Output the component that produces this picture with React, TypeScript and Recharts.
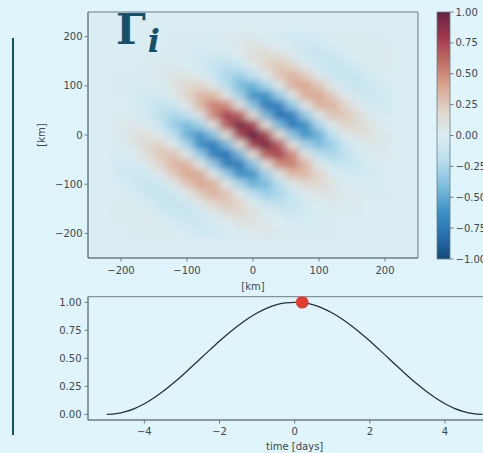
import React from "react";
import {
  Bar,
  BarChart,
  CartesianGrid,
  ComposedChart,
  Line,
  ReferenceArea,
  Scatter,
  ScatterChart,
  XAxis,
  YAxis,
} from "recharts";

// grid of the field, 20 km spacing
const FIELD_X = [-200, -180, -160, -140, -120, -100, -80, -60, -40, -20, 0, 20, 40, 60, 80, 100, 120, 140, 160, 180, 200];
const FIELD_Y = [200, 180, 160, 140, 120, 100, 80, 60, 40, 20, 0, -20, -40, -60, -80, -100, -120, -140, -160, -180, -200];

// values, one row per FIELD_Y entry (top to bottom)
const FIELD = [
  [0, 0, 0, 0, -0.01, -0.01, -0.01, 0, 0.03, 0.05, 0.04, 0.01, -0.03, -0.06, -0.05, -0.03, 0, 0.02, 0.02, 0.01, 0],
  [0, 0, 0, 0, -0.01, -0.02, -0.04, -0.03, 0.01, 0.06, 0.09, 0.08, 0.02, -0.05, -0.09, -0.08, -0.04, 0.01, 0.03, 0.03, 0.01],
  [0, 0, 0.01, 0.01, 0.01, -0.02, -0.06, -0.08, -0.06, 0.02, 0.12, 0.17, 0.13, 0.04, -0.07, -0.12, -0.1, -0.04, 0.01, 0.03, 0.02],
  [0, 0, 0.01, 0.03, 0.04, 0.01, -0.05, -0.13, -0.17, -0.11, 0.04, 0.19, 0.26, 0.19, 0.05, -0.08, -0.13, -0.1, -0.04, 0.01, 0.02],
  [-0.01, -0.01, 0.01, 0.04, 0.08, 0.09, 0.03, -0.1, -0.25, -0.3, -0.18, 0.05, 0.27, 0.34, 0.24, 0.05, -0.09, -0.13, -0.1, -0.04, 0],
  [-0.01, -0.02, -0.02, 0.01, 0.09, 0.17, 0.18, 0.06, -0.19, -0.41, -0.46, -0.26, 0.07, 0.34, 0.39, 0.26, 0.05, -0.08, -0.12, -0.08, -0.03],
  [-0.01, -0.04, -0.06, -0.05, 0.03, 0.18, 0.32, 0.32, 0.09, -0.28, -0.59, -0.61, -0.32, 0.08, 0.36, 0.39, 0.24, 0.05, -0.07, -0.09, -0.05],
  [0, -0.03, -0.08, -0.13, -0.1, 0.06, 0.32, 0.53, 0.49, 0.13, -0.38, -0.73, -0.7, -0.34, 0.08, 0.34, 0.34, 0.19, 0.04, -0.05, -0.06],
  [0.03, 0.01, -0.06, -0.17, -0.25, -0.19, 0.09, 0.49, 0.75, 0.65, 0.16, -0.44, -0.78, -0.7, -0.32, 0.07, 0.27, 0.26, 0.13, 0.02, -0.03],
  [0.05, 0.06, 0.02, -0.11, -0.3, -0.41, -0.28, 0.13, 0.65, 0.93, 0.75, 0.17, -0.44, -0.73, -0.61, -0.26, 0.05, 0.19, 0.17, 0.08, 0.01],
  [0.04, 0.09, 0.12, 0.04, -0.18, -0.46, -0.59, -0.38, 0.16, 0.75, 1.0, 0.75, 0.16, -0.38, -0.59, -0.46, -0.18, 0.04, 0.12, 0.09, 0.04],
  [0.01, 0.08, 0.17, 0.19, 0.05, -0.26, -0.61, -0.73, -0.44, 0.17, 0.75, 0.93, 0.65, 0.13, -0.28, -0.41, -0.3, -0.11, 0.02, 0.06, 0.05],
  [-0.03, 0.02, 0.13, 0.26, 0.27, 0.07, -0.32, -0.7, -0.78, -0.44, 0.16, 0.65, 0.75, 0.49, 0.09, -0.19, -0.25, -0.17, -0.06, 0.01, 0.03],
  [-0.06, -0.05, 0.04, 0.19, 0.34, 0.34, 0.08, -0.34, -0.7, -0.73, -0.38, 0.13, 0.49, 0.53, 0.32, 0.06, -0.1, -0.13, -0.08, -0.03, 0],
  [-0.05, -0.09, -0.07, 0.05, 0.24, 0.39, 0.36, 0.08, -0.32, -0.61, -0.59, -0.28, 0.09, 0.32, 0.32, 0.18, 0.03, -0.05, -0.06, -0.04, -0.01],
  [-0.03, -0.08, -0.12, -0.08, 0.05, 0.26, 0.39, 0.34, 0.07, -0.26, -0.46, -0.41, -0.19, 0.06, 0.18, 0.17, 0.09, 0.01, -0.02, -0.02, -0.01],
  [0, -0.04, -0.1, -0.13, -0.09, 0.05, 0.24, 0.34, 0.27, 0.05, -0.18, -0.3, -0.25, -0.1, 0.03, 0.09, 0.08, 0.04, 0.01, -0.01, -0.01],
  [0.02, 0.01, -0.04, -0.1, -0.13, -0.08, 0.05, 0.19, 0.26, 0.19, 0.04, -0.11, -0.17, -0.13, -0.05, 0.01, 0.04, 0.03, 0.01, 0, 0],
  [0.02, 0.03, 0.01, -0.04, -0.1, -0.12, -0.07, 0.04, 0.13, 0.17, 0.12, 0.02, -0.06, -0.08, -0.06, -0.02, 0.01, 0.01, 0.01, 0, 0],
  [0.01, 0.03, 0.03, 0.01, -0.04, -0.08, -0.09, -0.05, 0.02, 0.08, 0.09, 0.06, 0.01, -0.03, -0.04, -0.02, -0.01, 0, 0, 0, 0],
  [0, 0.01, 0.02, 0.02, 0, -0.03, -0.05, -0.06, -0.03, 0.01, 0.04, 0.05, 0.03, 0, -0.01, -0.01, -0.01, 0, 0, 0, 0],
];

const KM_TICKS = [-200, -100, 0, 100, 200];
const CB_TICKS = [1, 0.75, 0.5, 0.25, 0, -0.25, -0.5, -0.75, -1];

// time series
const TIME = [
  -5, -4.75, -4.5, -4.25, -4, -3.75, -3.5, -3.25, -3, -2.75, -2.5, -2.25, -2, -1.75, -1.5, -1.25, -1, -0.75, -0.5, -0.25, 0,
  0.25, 0.5, 0.75, 1, 1.25, 1.5, 1.75, 2, 2.25, 2.5, 2.75, 3, 3.25, 3.5, 3.75, 4, 4.25, 4.5, 4.75, 5,
];
const AMPLITUDE = [
  0, 0.006, 0.024, 0.054, 0.095, 0.146, 0.206, 0.273, 0.345, 0.422, 0.5, 0.578, 0.655, 0.727, 0.794, 0.854, 0.905, 0.946, 0.976, 0.994, 1,
  0.994, 0.976, 0.946, 0.905, 0.854, 0.794, 0.727, 0.655, 0.578, 0.5, 0.422, 0.345, 0.273, 0.206, 0.146, 0.095, 0.054, 0.024, 0.006, 0,
];
const NOW_TIME = [0.2];
const NOW_AMPLITUDE = [1];
const TIME_TICKS = [-4, -2, 0, 2, 4];
const AMP_TICKS = [0, 0.25, 0.5, 0.75, 1];

// RdBu_r as it shows through the slide's tint
const CMAP: [number, number[]][] = [
  [-1.0, [24, 74, 120]],
  [-0.8, [40, 112, 178]],
  [-0.6, [66, 148, 198]],
  [-0.4, [130, 192, 222]],
  [-0.2, [186, 222, 237]],
  [0.0, [218, 237, 243]],
  [0.2, [224, 213, 202]],
  [0.4, [217, 166, 143]],
  [0.6, [192, 110, 101]],
  [0.8, [160, 55, 76]],
  [1.0, [100, 35, 66]],
];

const colorOf = (v: number) => {
  const t = Math.max(-1, Math.min(1, v));
  for (let i = 1; i < CMAP.length; i++) {
    const [v1, c1] = CMAP[i];
    if (t <= v1) {
      const [v0, c0] = CMAP[i - 1];
      const f = (t - v0) / (v1 - v0);
      const c = c0.map((a, k) => Math.round(a + (c1[k] - a) * f));
      return `rgb(${c[0]},${c[1]},${c[2]})`;
    }
  }
  return "rgb(100,35,66)";
};

const BG = "#e0f4fb";
const TEXT = "#3d474c";
const SPINE = "#6a7d85";
const FONT = "DejaVu Sans, sans-serif";

const fmtKm = (v: number) => (v < 0 ? "\u2212" + Math.abs(v) : String(v));
const fmt2 = (v: number) => (v < 0 ? "\u2212" + Math.abs(v).toFixed(2) : v.toFixed(2));
const fmtT = (v: number) => (v < 0 ? "\u2212" + Math.abs(v) : String(v));

const cells = FIELD_Y.flatMap((y, r) => FIELD_X.map((x, c) => ({ x, y, v: FIELD[r][c] })));
const curve = TIME.map((t, i) => ({ t, v: AMPLITUDE[i] }));
const marker = NOW_TIME.map((t, i) => ({ t, v: NOW_AMPLITUDE[i] }));

// heat plot area size in px, used for the cell footprint
const HEAT_PLOT_W = 330;
const HEAT_PLOT_H = 246;
const CELL_W = (HEAT_PLOT_W * 20) / 500;
const CELL_H = (HEAT_PLOT_H * 20) / 500;

const renderCell = (p: any) => (
  <rect
    x={p.cx - CELL_W / 2 - 0.3}
    y={p.cy - CELL_H / 2 - 0.3}
    width={CELL_W + 0.6}
    height={CELL_H + 0.6}
    fill={colorOf(p.payload.v)}
  />
);

const renderDot = (p: any) => <circle cx={p.cx} cy={p.cy} r={6.3} fill="#e23c2f" />;

const tick = { fontSize: 10, fill: TEXT, fontFamily: FONT };

const KmLabel = (props: any) => {
  const vb = props.viewBox;
  const x = vb.x + 3;
  const y = vb.y + vb.height / 2;
  return (
    <text x={x} y={y} transform={`rotate(-90 ${x} ${y})`} textAnchor="middle" dominantBaseline="central" fontSize={10} fill={TEXT} fontFamily={FONT}>
      [km]
    </text>
  );
};

export default function App() {
  return (
    <div style={{ position: "fixed", left: 0, top: 0, width: 483, height: 453, background: BG, overflow: "hidden", fontFamily: FONT }}>
      <style>{`html,body{margin:0;overflow:hidden;} .heat .recharts-scatter{filter:url(#heatBlur);}`}</style>

      <div style={{ position: "absolute", left: 12, top: 38, width: 2, height: 397, background: "#1b4f68" }} />

      <div style={{ position: "absolute", left: 0, top: 280 }}>
        <ComposedChart width={520} height={173} margin={{ top: 16.7, right: 18.6, bottom: 3, left: 38 }}>
          <XAxis
            type="number"
            dataKey="t"
            domain={[-5.5, 5.5]}
            ticks={TIME_TICKS}
            allowDataOverflow
            height={30}
            tickSize={3.5}
            tickMargin={4.5}
            tick={tick}
            tickFormatter={fmtT}
            stroke={SPINE}
            label={{ value: "time [days]", position: "insideBottom", offset: 0, fontSize: 10, fill: TEXT }}
          />
          <YAxis
            type="number"
            domain={[-0.05, 1.05]}
            ticks={AMP_TICKS}
            allowDataOverflow
            width={50}
            tickSize={3.5}
            tickMargin={3}
            tick={tick}
            tickFormatter={fmt2}
            stroke={SPINE}
          />
          <ReferenceArea x1={-5.5} x2={5.5} y1={-0.05} y2={1.05} fill="none" stroke={SPINE} strokeWidth={1} />
          <Line data={curve} dataKey="v" type="monotone" stroke="#263238" strokeWidth={1.3} dot={false} isAnimationActive={false} />
          <Scatter data={marker} dataKey="v" shape={renderDot} isAnimationActive={false} />
        </ComposedChart>
      </div>

      <div className="heat" style={{ position: "absolute", left: 0, top: 0 }}>
        <ScatterChart width={430} height={300} margin={{ top: 12, right: 12, bottom: 12, left: 38 }}>
          <defs>
            <filter id="heatBlur" x="-10%" y="-10%" width="120%" height="120%">
              <feGaussianBlur stdDeviation="4.2 3.2" />
            </filter>
          </defs>
          <CartesianGrid horizontal={false} vertical={false} fill={colorOf(0)} />
          <XAxis
            type="number"
            dataKey="x"
            domain={[-250, 250]}
            ticks={KM_TICKS}
            allowDataOverflow
            height={30}
            tickSize={3.5}
            tickMargin={5}
            tick={tick}
            tickFormatter={fmtKm}
            stroke={SPINE}
            label={{ value: "[km]", position: "insideBottom", offset: -2, fontSize: 10, fill: TEXT }}
          />
          <YAxis
            type="number"
            dataKey="y"
            domain={[-250, 250]}
            ticks={KM_TICKS}
            allowDataOverflow
            width={50}
            tickSize={3.5}
            tickMargin={2}
            tick={tick}
            tickFormatter={fmtKm}
            stroke={SPINE}
            label={<KmLabel />}
          />
          <Scatter data={cells} shape={renderCell} isAnimationActive={false} />
          <ReferenceArea x1={-250} x2={250} y1={-250} y2={250} fill="none" stroke={SPINE} strokeWidth={1} />
        </ScatterChart>
      </div>

      <div style={{ position: "absolute", left: 420, top: 0 }}>
        <BarChart width={100} height={290} data={[{ name: "cb", range: [-1, 1] }]} margin={{ top: 12, right: 33, bottom: 31, left: 17 }} barCategoryGap={0}>
          <defs>
            <linearGradient id="cbGrad" x1="0" y1="0" x2="0" y2="1">
              {CMAP.slice()
                .reverse()
                .map(([v, c]) => (
                  <stop key={v} offset={`${((1 - v) / 2) * 100}%`} stopColor={`rgb(${c[0]},${c[1]},${c[2]})`} />
                ))}
            </linearGradient>
          </defs>
          <XAxis dataKey="name" hide />
          <YAxis
            orientation="right"
            type="number"
            domain={[-1, 1]}
            ticks={CB_TICKS}
            width={37}
            tickSize={3.5}
            tickMargin={2}
            tick={tick}
            tickFormatter={fmt2}
            axisLine={false}
            stroke={SPINE}
          />
          <Bar dataKey="range" fill="url(#cbGrad)" stroke={SPINE} strokeWidth={0.8} isAnimationActive={false} />
        </BarChart>
      </div>

      <svg width={483} height={453} style={{ position: "absolute", left: 0, top: 0, pointerEvents: "none" }}>
        <text x={116} y={43.5} fontFamily="DejaVu Serif, serif" fontWeight="bold" fontSize={42} fill="#16506b">
          Γ
          <tspan fontStyle="italic" fontSize={32} dx={2} dy={8}>
            i
          </tspan>
        </text>
      </svg>
    </div>
  );
}
